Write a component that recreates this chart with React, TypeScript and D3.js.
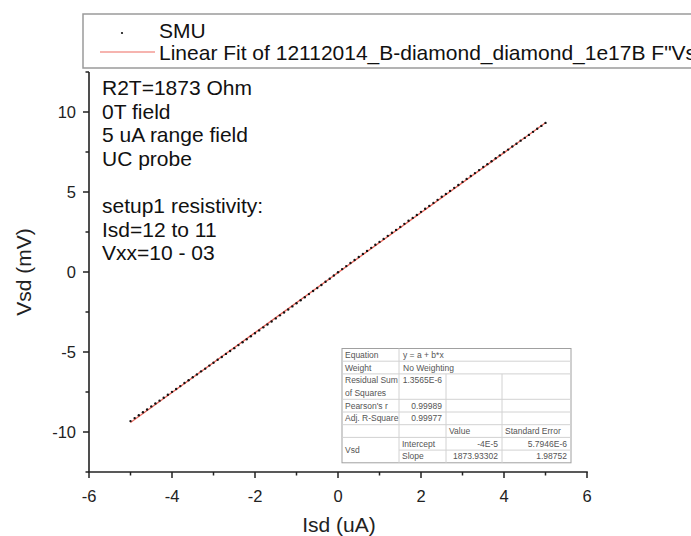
import React from "react";
import * as d3 from "d3";

// Measured source-drain current (uA) and voltage (mV)
const isdUA: number[] = [
  -5.0, -4.9, -4.8, -4.7, -4.6, -4.5, -4.4, -4.3, -4.2, -4.1,
  -4.0, -3.9, -3.8, -3.7, -3.6, -3.5, -3.4, -3.3, -3.2, -3.1,
  -3.0, -2.9, -2.8, -2.7, -2.6, -2.5, -2.4, -2.3, -2.2, -2.1,
  -2.0, -1.9, -1.8, -1.7, -1.6, -1.5, -1.4, -1.3, -1.2, -1.1,
  -1.0, -0.9, -0.8, -0.7, -0.6, -0.5, -0.4, -0.3, -0.2, -0.1,
  0.0, 0.1, 0.2, 0.3, 0.4, 0.5, 0.6, 0.7, 0.8, 0.9,
  1.0, 1.1, 1.2, 1.3, 1.4, 1.5, 1.6, 1.7, 1.8, 1.9,
  2.0, 2.1, 2.2, 2.3, 2.4, 2.5, 2.6, 2.7, 2.8, 2.9,
  3.0, 3.1, 3.2, 3.3, 3.4, 3.5, 3.6, 3.7, 3.8, 3.9,
  4.0, 4.1, 4.2, 4.3, 4.4, 4.5, 4.6, 4.7, 4.8, 4.9,
  5.0,
];
const vsdMV: number[] = [
  -9.32, -9.13, -8.95, -8.77, -8.59, -8.40, -8.22, -8.04, -7.86, -7.67,
  -7.49, -7.31, -7.13, -6.94, -6.77, -6.58, -6.40, -6.21, -6.04, -5.85,
  -5.67, -5.48, -5.31, -5.12, -4.94, -4.76, -4.57, -4.39, -4.20, -4.02,
  -3.83, -3.65, -3.46, -3.28, -3.09, -2.90, -2.71, -2.53, -2.34, -2.15,
  -1.95, -1.77, -1.58, -1.38, -1.19, -1.00, -0.81, -0.61, -0.42, -0.22,
  -0.02, 0.18, 0.37, 0.56, 0.75, 0.94, 1.13, 1.32, 1.51, 1.70,
  1.88, 2.07, 2.26, 2.45, 2.63, 2.82, 3.01, 3.20, 3.38, 3.57,
  3.76, 3.95, 4.13, 4.32, 4.51, 4.70, 4.88, 5.07, 5.26, 5.44,
  5.63, 5.82, 6.00, 6.18, 6.37, 6.56, 6.74, 6.92, 7.11, 7.29,
  7.48, 7.65, 7.84, 8.02, 8.21, 8.38, 8.57, 8.76, 8.95, 9.13,
  9.32,
];

// Linear fit y = a + b*x (SI units: V, A)
const fitIntercept = -4e-5;
const fitSlope = 1873.93302;
const fitRange: number[] = [-5, 5];

const xTicks: number[] = [-6, -4, -2, 0, 2, 4, 6];
const xMinorTicks: number[] = [-5, -3, -1, 1, 3, 5];
const yTicks: number[] = [-10, -5, 0, 5, 10];
const yMinorTicks: number[] = [-12.5, -7.5, -2.5, 2.5, 7.5, 12.5];

const noteLines: string[] = [
  "R2T=1873 Ohm",
  "0T field",
  "5 uA range field",
  "UC probe",
  "",
  "setup1 resistivity:",
  "Isd=12 to 11",
  "Vxx=10 - 03",
];

const legendLabels: string[] = [
  "SMU",
  "Linear Fit of 12112014_B-diamond_diamond_1e17B F\"Vsd\"",
];

// Fit report table
const reportLabels: string[] = [
  "Equation",
  "Weight",
  "Residual Sum|of Squares",
  "Pearson's r",
  "Adj. R-Square",
];
const reportValues: string[] = [
  "y = a + b*x",
  "No Weighting",
  "1.3565E-6",
  "0.99989",
  "0.99977",
];
const paramHeader: string[] = ["Value", "Standard Error"];
const paramGroup = "Vsd";
const paramNames: string[] = ["Intercept", "Slope"];
const paramValues: string[] = ["-4E-5", "1873.93302"];
const paramErrors: string[] = ["5.7946E-6", "1.98752"];

const W = 691;
const H = 536;
const FONT = "'Liberation Sans', Arial, sans-serif";

export default function App() {
  const x = d3.scaleLinear().domain([-6, 6]).range([89, 587]);
  const y = d3.scaleLinear().domain([-12.5, 12.5]).range([472, 72]);

  const fitV = (iUA: number) => (fitIntercept + fitSlope * iUA * 1e-6) * 1e3;
  const fitLine = d3
    .line<number>()
    .x((d) => x(d))
    .y((d) => y(fitV(d)))(fitRange) as string;

  // table geometry
  const tx0 = 342;
  const tx1 = 571;
  const cols = [tx0, 399, 446, 502, tx1];
  const rowH = 12.7;
  const ty0 = 348.5;
  const rowUnits = [1, 1, 2, 1, 1, 1, 1, 1];
  const rowTops: number[] = [];
  let acc = ty0;
  rowUnits.forEach((u) => {
    rowTops.push(acc);
    acc += u * rowH;
  });
  const ty1 = acc;
  const rowMid = (i: number) => rowTops[i] + (rowUnits[i] * rowH) / 2;
  const gridColor = "#d2d2d2";
  const tFont = 8.5;
  const tColor = "#555";

  return (
    <svg
      width={W}
      height={H}
      style={{ position: "absolute", left: 0, top: 0, background: "#fff" }}
      fontFamily={FONT}
    >
      <rect x={0} y={0} width={W} height={H} fill="#fff" />

      {/* legend */}
      <rect x={83} y={14} width={640} height={54} fill="#fff" stroke="#9a9a9a" strokeWidth={1.5} />
      <circle cx={122} cy={33} r={1.1} fill="#111" />
      <text x={159} y={38} fontSize={21} fill="#111">{legendLabels[0]}</text>
      <line x1={100} x2={155} y1={52} y2={52} stroke="#ee6b60" strokeWidth={1.2} />
      <text x={159} y={60} fontSize={21} fill="#111">{legendLabels[1]}</text>

      {/* fit line */}
      <path d={fitLine} fill="none" stroke="#ee6b60" strokeWidth={1.3} />

      {/* data points */}
      {isdUA.map((iv, k) => (
        <circle key={k} cx={x(iv)} cy={y(vsdMV[k])} r={1.2} fill="#111" />
      ))}

      {/* annotation */}
      {noteLines.map((t, k) => (
        <text key={k} x={102} y={95 + k * 23.6} fontSize={21} fill="#111">{t}</text>
      ))}

      {/* axes */}
      <line x1={89} x2={89} y1={72} y2={472} stroke="#222" strokeWidth={1.6} />
      <line x1={88.2} x2={587.8} y1={472} y2={472} stroke="#222" strokeWidth={1.6} />
      {yTicks.map((t) => (
        <g key={t}>
          <line x1={83} x2={89} y1={y(t)} y2={y(t)} stroke="#222" strokeWidth={1.5} />
          <text x={76} y={y(t)} dy="0.35em" textAnchor="end" fontSize={16.5} fill="#222">{t}</text>
        </g>
      ))}
      {yMinorTicks.map((t) => (
        <line key={t} x1={85.5} x2={89} y1={y(t)} y2={y(t)} stroke="#222" strokeWidth={1.5} />
      ))}
      {xTicks.map((t) => (
        <g key={t}>
          <line x1={x(t)} x2={x(t)} y1={472} y2={478} stroke="#222" strokeWidth={1.5} />
          <text x={x(t)} y={502} textAnchor="middle" fontSize={16.5} fill="#222">{t}</text>
        </g>
      ))}
      {xMinorTicks.map((t) => (
        <line key={t} x1={x(t)} x2={x(t)} y1={472} y2={475.5} stroke="#222" strokeWidth={1.5} />
      ))}
      <text x={339} y={532} textAnchor="middle" fontSize={21} fill="#222">Isd (uA)</text>
      <text
        transform={`translate(31,${y(0)}) rotate(-90)`}
        textAnchor="middle"
        fontSize={21}
        fill="#222"
      >
        Vsd (mV)
      </text>

      {/* fit report table */}
      <g fontSize={tFont} fill={tColor}>
        <rect x={tx0} y={ty0} width={tx1 - tx0} height={ty1 - ty0} fill="#fff" stroke="#a0a0a0" strokeWidth={1} />
        {rowTops.slice(1).map((ry, k) => (
          <line
            key={k}
            x1={k === 6 ? cols[1] : tx0}
            x2={tx1}
            y1={ry}
            y2={ry}
            stroke={gridColor}
            strokeWidth={1}
          />
        ))}
        <line x1={cols[1]} x2={cols[1]} y1={ty0} y2={ty1} stroke={gridColor} />
        <line x1={cols[2]} x2={cols[2]} y1={rowTops[2]} y2={ty1} stroke={gridColor} />
        <line x1={cols[3]} x2={cols[3]} y1={rowTops[2]} y2={ty1} stroke={gridColor} />
        {reportLabels.map((lab, k) => {
          const parts = lab.split("|");
          if (parts.length === 1) {
            return (
              <text key={k} x={tx0 + 3} y={rowMid(k)} dy="0.35em">{lab}</text>
            );
          }
          return (
            <g key={k}>
              <text x={tx0 + 3} y={rowTops[k] + rowH / 2} dy="0.35em">{parts[0]}</text>
              <text x={tx0 + 3} y={rowTops[k] + rowH * 1.5} dy="0.35em">{parts[1]}</text>
            </g>
          );
        })}
        {reportValues.map((v, k) =>
          k < 2 ? (
            <text key={k} x={cols[1] + 4} y={rowMid(k)} dy="0.35em">{v}</text>
          ) : (
            <text key={k} x={cols[2] - 4} y={k === 2 ? rowTops[k] + rowH / 2 : rowMid(k)} dy="0.35em" textAnchor="end">{v}</text>
          )
        )}
        <text x={cols[2] + 3} y={rowMid(5)} dy="0.35em">{paramHeader[0]}</text>
        <text x={cols[3] + 3} y={rowMid(5)} dy="0.35em">{paramHeader[1]}</text>
        <text x={tx0 + 3} y={rowTops[6] + rowH} dy="0.35em">{paramGroup}</text>
        {paramNames.map((n, k) => (
          <g key={n}>
            <text x={cols[1] + 3} y={rowMid(6 + k)} dy="0.35em">{n}</text>
            <text x={cols[3] - 4} y={rowMid(6 + k)} dy="0.35em" textAnchor="end">{paramValues[k]}</text>
            <text x={cols[4] - 4} y={rowMid(6 + k)} dy="0.35em" textAnchor="end">{paramErrors[k]}</text>
          </g>
        ))}
      </g>
    </svg>
  );
}
